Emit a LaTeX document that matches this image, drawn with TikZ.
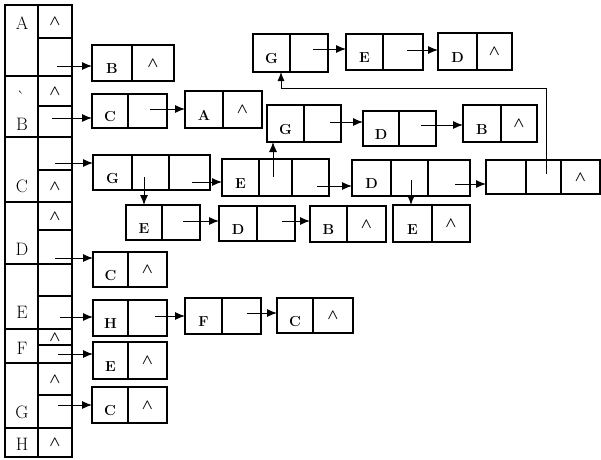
\documentclass[tikz,border=0pt]{standalone}
\usetikzlibrary{arrows.meta}
\tikzset{
  cellbox/.style={draw, line width=1.2pt, inner sep=0pt, outer sep=0pt, font=\fontsize{14.5}{14.5}\selectfont\bfseries},
  ptr/.style={line width=1pt, -{Latex[length=10pt,width=8pt]}},
  thinptr/.style={line width=0.8pt, -{Latex[length=9pt,width=7pt]}},
  collabel/.style={anchor=base, font=\fontsize{18}{18}\selectfont, inner sep=0pt},
}
\newcommand\cellat[6]{%
  \pgfmathsetmacro\cw{#4-#2}\pgfmathsetmacro\ch{#5-#3}%
  \node[cellbox, minimum width=\cw pt, minimum height=\ch pt] (#1) at ({(#2+#4)/2},{(#3+#5)/2}) {#6};}
\newcommand\lo[1]{\raisebox{-10.5pt}[0pt][0pt]{#1}}
\newcommand\nil{{\fontsize{15}{15}\selectfont\boldmath$\wedge$}}
\begin{document}
\begin{tikzpicture}[x=1pt,y=-1pt]
\useasboundingbox (0,0) rectangle (601,459);
% ---- left column ----
\cellat{lA}{5}{5}{38}{76}{}
\cellat{aN}{38}{5}{72}{38}{\nil}
\cellat{aP}{38}{38}{72}{76}{}
\cellat{lB}{5}{76}{38}{137}{}
\cellat{bN}{38}{76}{72}{106}{\nil}
\cellat{bP}{38}{106}{72}{137}{}
\cellat{lC}{5}{137}{38}{202}{}
\cellat{cP}{38}{137}{72}{170}{}
\cellat{cN}{38}{170}{72}{202}{\nil}
\cellat{lD}{5}{202}{38}{264}{}
\cellat{dN}{38}{202}{72}{230}{\nil}
\cellat{dP}{38}{230}{72}{264}{}
\cellat{lE}{5}{264}{38}{329}{}
\cellat{eX}{38}{264}{72}{296}{}
\cellat{eP}{38}{296}{72}{329}{}
\cellat{lF}{5}{329}{38}{363}{}
\cellat{fN}{38}{329}{72}{345}{\nil}
\cellat{fP}{38}{345}{72}{363}{}
\cellat{lG}{5}{363}{38}{428}{}
\cellat{gN}{38}{363}{72}{395}{\nil}
\cellat{gP}{38}{395}{72}{428}{}
\cellat{lH}{5}{428}{38}{457}{}
\cellat{hN}{38}{428}{72}{457}{\nil}
\node[collabel] (tA) at (22,29) {A};
\node[collabel] (tB) at (22,130) {B};
\node[collabel] (tick) at (21,103) {\`{}};
\node[collabel] (tC) at (22,192) {C};
\node[collabel] (tD) at (22,255) {D};
\node[collabel] (tE) at (22,318) {E};
\node[collabel] (tF) at (22,354) {F};
\node[collabel] (tG) at (22,418) {G};
\node[collabel] (tH) at (22,450) {H};
% ---- row A ----
\cellat{B1a}{92}{45}{132}{81}{\lo{B}}
\cellat{B1b}{132}{45}{174}{81}{\nil}
% ---- row B ----
\cellat{C2a}{92}{94}{128}{128}{\lo{C}}
\cellat{C2b}{128}{94}{167}{128}{}
\cellat{A2a}{185}{91}{223}{128}{\lo{A}}
\cellat{A2b}{223}{91}{262}{128}{\nil}
% ---- top chain G E D ----
\cellat{G3a}{253}{34}{290}{72}{\lo{G}}
\cellat{G3b}{290}{34}{328}{72}{}
\cellat{E3a}{346}{34}{383}{70}{\lo{E}}
\cellat{E3b}{383}{34}{423}{70}{}
\cellat{D3a}{438}{33}{477}{70}{\lo{D}}
\cellat{D3b}{477}{33}{512}{70}{\nil}
% ---- middle chain G D B ----
\cellat{G4a}{267}{105}{304}{142}{\lo{G}}
\cellat{G4b}{304}{105}{341}{142}{}
\cellat{D4a}{363}{111}{399}{146}{\lo{D}}
\cellat{D4b}{399}{111}{436}{146}{}
\cellat{B4a}{463}{105}{501}{142}{\lo{B}}
\cellat{B4b}{501}{105}{537}{142}{\nil}
% ---- row C three-cell chain ----
\cellat{G5a}{93}{155}{132}{190}{\lo{G}}
\cellat{G5b}{132}{155}{169}{190}{}
\cellat{G5c}{169}{155}{210}{190}{}
\cellat{E5a}{222}{159}{259}{196}{\lo{E}}
\cellat{E5b}{259}{159}{292}{196}{}
\cellat{E5c}{292}{159}{329}{196}{}
\cellat{D5a}{352}{160}{391}{196}{\lo{D}}
\cellat{D5b}{391}{160}{428}{196}{}
\cellat{D5c}{428}{160}{470}{196}{}
\cellat{X5a}{486}{160}{526}{194}{}
\cellat{X5b}{526}{160}{561}{194}{}
\cellat{X5c}{561}{160}{600}{194}{\nil}
% ---- sub chains ----
\cellat{E6a}{126}{205}{162}{240}{\lo{E}}
\cellat{E6b}{162}{205}{200}{240}{}
\cellat{D6a}{219}{206}{257}{241}{\lo{D}}
\cellat{D6b}{257}{206}{295}{241}{}
\cellat{B6a}{310}{206}{347}{242}{\lo{B}}
\cellat{B6b}{347}{206}{386}{242}{\nil}
\cellat{E7a}{393}{205}{432}{242}{\lo{E}}
\cellat{E7b}{432}{205}{470}{242}{\nil}
% ---- row D ----
\cellat{C8a}{93}{252}{128}{287}{\lo{C}}
\cellat{C8b}{128}{252}{167}{287}{\nil}
% ---- row E ----
\cellat{H9a}{93}{300}{128}{336}{\lo{H}}
\cellat{H9b}{128}{300}{167}{336}{}
\cellat{F9a}{185}{298}{222}{334}{\lo{F}}
\cellat{F9b}{222}{298}{261}{334}{}
\cellat{C9a}{277}{298}{313}{333}{\lo{C}}
\cellat{C9b}{313}{298}{353}{333}{\nil}
% ---- row F ----
\cellat{E10a}{93}{342}{128}{379}{\lo{E}}
\cellat{E10b}{128}{342}{167}{379}{\nil}
% ---- row G ----
\cellat{C11a}{92}{387}{128}{423}{\lo{C}}
\cellat{C11b}{128}{387}{167}{423}{\nil}
% ---- arrow start points ----
\coordinate (sA) at (57,66);
\coordinate (sB) at (52,118);
\coordinate (sC) at (55,163);
\coordinate (sD) at (55,258);
\coordinate (sE) at (60,317);
\coordinate (sF) at (58,354);
\coordinate (sG) at (58,405);
\coordinate (s2) at (150,109);
\coordinate (s3a) at (313,49);
\coordinate (s3b) at (407,50);
\coordinate (s4a) at (330,122);
\coordinate (s4b) at (421,125);
\coordinate (s5a) at (192,182);
\coordinate (s5b) at (317,186);
\coordinate (s5c) at (455,184);
\coordinate (d5a) at (144,177);
\coordinate (d5b) at (411,180);
\coordinate (u5) at (273,177);
\coordinate (s6a) at (183,221);
\coordinate (s6b) at (282,221);
\coordinate (s9a) at (155,316);
\coordinate (s9b) at (247,313);
\coordinate (fb) at (546,174);
\coordinate (fbc) at (281,88);
% ---- arrows ----
\draw[ptr] (sA) -- (sA -| B1a.west);
\draw[ptr] (sB) -- (sB -| C2a.west);
\draw[ptr] (sC) -- (sC -| G5a.west);
\draw[ptr] (sD) -- (sD -| C8a.west);
\draw[ptr] (sE) -- (sE -| H9a.west);
\draw[ptr] (sF) -- (sF -| E10a.west);
\draw[ptr] (sG) -- (sG -| C11a.west);
\draw[ptr] (s2) -- (s2 -| A2a.west);
\draw[ptr] (s3a) -- (s3a -| E3a.west);
\draw[ptr] (s3b) -- (s3b -| D3a.west);
\draw[ptr] (s4a) -- (s4a -| D4a.west);
\draw[ptr] (s4b) -- (s4b -| B4a.west);
\draw[ptr] (s5a) -- (s5a -| E5a.west);
\draw[ptr] (s5b) -- (s5b -| D5a.west);
\draw[ptr] (s5c) -- (s5c -| X5a.west);
\draw[ptr] (d5a) -- (d5a |- E6a.north);
\draw[ptr] (d5b) -- (d5b |- E7a.north);
\draw[ptr] (u5) -- (u5 |- G4a.south);
\draw[ptr] (s6a) -- (s6a -| D6a.west);
\draw[ptr] (s6b) -- (s6b -| B6a.west);
\draw[ptr] (s9a) -- (s9a -| F9a.west);
\draw[ptr] (s9b) -- (s9b -| C9a.west);
\draw[thinptr] (fb) |- (fbc) -- (fbc |- G3a.south);
\end{tikzpicture}
\end{document}
